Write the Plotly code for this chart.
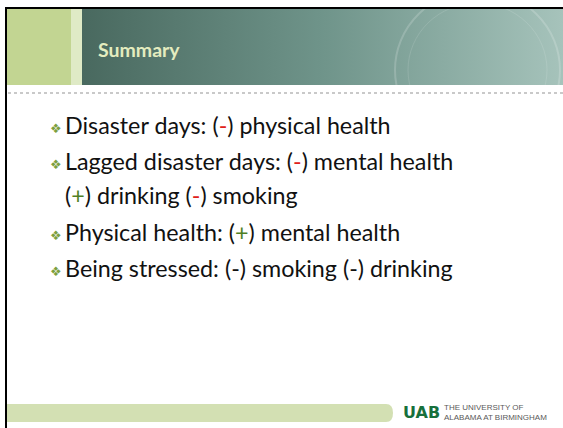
import plotly.graph_objects as go

# ── Slide content ─────────────────────────────────────────────────────────────
title = "Summary"

RED = "#e0201b"
GRN = "#4f7f24"
bullet_lines = [
    ("bullet", f'Disaster days: (<span style="color:{RED}">-</span>) physical health'),
    ("bullet", f'Lagged disaster days: (<span style="color:{RED}">-</span>) mental health'),
    ("indent", f'(<span style="color:{GRN}">+</span>) drinking (<span style="color:{RED}">-</span>) smoking'),
    ("bullet", f'Physical health: (<span style="color:{GRN}">+</span>) mental health'),
    ("bullet", 'Being stressed: (-) smoking (-) drinking'),
]
line_y = [125, 161, 195, 232, 268]

logo_mark = "UAB"
logo_lines = ["THE UNIVERSITY OF", "ALABAMA AT BIRMINGHAM"]

W, H = 563, 428

fig = go.Figure()

# ── Header band ───────────────────────────────────────────────────────────────
fig.add_trace(go.Scatter(
    x=[82, W, W, 82, 82], y=[9, 9, 85, 85, 9],
    fill="toself", mode="lines", line=dict(width=0),
    fillgradient=dict(type="horizontal",
                      colorscale=[[0, "#49695f"], [0.5, "#6f948a"], [1, "#a6c3bb"]]),
    hoverinfo="skip", showlegend=False,
))

shapes = [
    # green block + pale stripe
    dict(type="rect", x0=7, x1=71, y0=9, y1=85, fillcolor="#c2d592", line_width=0, layer="below"),
    dict(type="rect", x0=71, x1=82, y0=9, y1=85, fillcolor="#dfeac6", line_width=0, layer="below"),
    # faint seal watermark
    dict(type="circle", x0=395, x1=560, y0=-10, y1=150,
         line=dict(color="rgba(255,255,255,0.18)", width=2)),
    dict(type="circle", x0=408, x1=547, y0=3, y1=137,
         line=dict(color="rgba(255,255,255,0.12)", width=1)),
    # dotted separator
    dict(type="line", x0=8, x1=W, y0=93, y1=93,
         line=dict(color="#c9c9c9", width=2, dash="dot")),
    # black frame (top + left)
    dict(type="rect", x0=5, x1=W + 2, y0=7, y1=9, fillcolor="black", line_width=0),
    dict(type="rect", x0=5, x1=7, y0=7, y1=H + 2, fillcolor="black", line_width=0),
    # footer bar
    dict(type="path",
         path="M 7 404 L 386 404 Q 393 404 393 413 Q 393 422 386 422 L 7 422 Z",
         fillcolor="#d3e0b3", line_width=0),
]

annotations = [
    dict(x=96, y=49, text=f"<b>{title}</b>", showarrow=False,
         xanchor="left", yanchor="middle",
         font=dict(family="Lato", size=19.5, color="#e4ecbf")),
    dict(x=401, y=412, text=f"<b>{logo_mark}</b>", showarrow=False,
         xanchor="left", yanchor="middle",
         font=dict(family="DejaVu Sans", size=16, color="#17703c")),
    dict(x=442, y=412, text="<br>".join(logo_lines), showarrow=False,
         xanchor="left", yanchor="middle", align="left",
         font=dict(family="Liberation Sans", size=8, color="#5a5a5a")),
]

for (kind, txt), y in zip(bullet_lines, line_y):
    if kind == "bullet":
        annotations.append(dict(x=48, y=y + 3, text="❖", showarrow=False,
                                xanchor="left", yanchor="middle",
                                font=dict(family="DejaVu Sans", size=13, color="#7da03f")))
    annotations.append(dict(x=63, y=y, text=txt, showarrow=False,
                            xanchor="left", yanchor="middle",
                            font=dict(family="Lato", size=23.3, color="#111111")))

fig.update_layout(
    width=W, height=H,
    margin=dict(l=0, r=0, t=0, b=0),
    paper_bgcolor="white", plot_bgcolor="white",
    xaxis=dict(range=[0, W], visible=False, fixedrange=True),
    yaxis=dict(range=[H, 0], visible=False, fixedrange=True),
    shapes=shapes, annotations=annotations,
    showlegend=False,
)

fig.write_html("out.html", config={"displayModeBar": False},
               post_script="document.body.style.margin='0';document.body.style.overflow='hidden';")
